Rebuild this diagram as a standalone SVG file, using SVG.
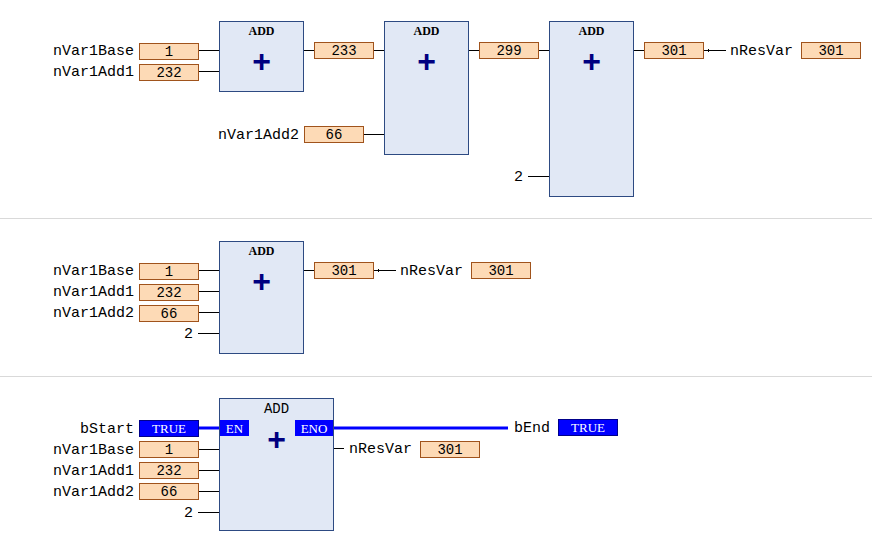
<svg xmlns="http://www.w3.org/2000/svg" width="872" height="552" viewBox="0 0 872 552">
<defs>
<style>
.blk{fill:#E1E8F5;stroke:#2D4A82;stroke-width:1}
.val{fill:#FDDAB6;stroke:#A0531C;stroke-width:1}
.bool{fill:#0000FF;stroke:#00008B;stroke-width:1}
.en{fill:#0000FF}
.w{stroke:#000;stroke-width:1;fill:none}
.bw{stroke:#0000FF;stroke-width:3;fill:none}
.sep{stroke:#D9D9D9;stroke-width:1}
.lbl{font-family:"Liberation Mono","Courier New",monospace;font-size:15px;fill:#000}
.num{font-family:"Liberation Mono","Courier New",monospace;font-size:14px;fill:#000;text-anchor:middle}
.hdr{font-family:"Liberation Serif","Times New Roman",serif;font-size:12px;font-weight:bold;fill:#000;text-anchor:middle}
.hdr2{font-family:"Liberation Mono","Courier New",monospace;font-size:14px;fill:#000;text-anchor:middle}
.plus{font-family:"Liberation Sans",Arial,sans-serif;font-size:32px;font-weight:bold;fill:#000080;text-anchor:middle}
.wt{font-family:"Liberation Serif","Times New Roman",serif;font-size:13px;fill:#fff;text-anchor:middle}
.r{text-anchor:end}
</style>
</defs>
<rect width="872" height="552" fill="#fff"/>
<line class="sep" x1="0" y1="218.5" x2="872" y2="218.5"/>
<line class="sep" x1="0" y1="376.5" x2="872" y2="376.5"/>

<g id="connectors">
<!-- section 1 -->
<line class="w" x1="199" y1="50.5" x2="220" y2="50.5"/>
<line class="w" x1="199" y1="71.5" x2="220" y2="71.5"/>
<line class="w" x1="304" y1="50.5" x2="314" y2="50.5"/>
<line class="w" x1="374" y1="50.5" x2="385" y2="50.5"/>
<line class="w" x1="364" y1="134.5" x2="385" y2="134.5"/>
<line class="w" x1="469" y1="50.5" x2="479" y2="50.5"/>
<line class="w" x1="539" y1="50.5" x2="550" y2="50.5"/>
<line class="w" x1="528" y1="176.5" x2="550" y2="176.5"/>
<line class="w" x1="634" y1="50.5" x2="644" y2="50.5"/>
<line class="w" x1="704" y1="50.5" x2="726" y2="50.5"/>
<line class="w" x1="708.5" y1="49" x2="708.5" y2="52"/>
<!-- section 2 -->
<line class="w" x1="199" y1="270.5" x2="220" y2="270.5"/>
<line class="w" x1="199" y1="291.5" x2="220" y2="291.5"/>
<line class="w" x1="199" y1="312.5" x2="220" y2="312.5"/>
<line class="w" x1="198" y1="333.5" x2="220" y2="333.5"/>
<line class="w" x1="304" y1="270.5" x2="314" y2="270.5"/>
<line class="w" x1="374" y1="270.5" x2="396" y2="270.5"/>
<line class="w" x1="378.5" y1="269" x2="378.5" y2="272"/>
<!-- section 3 -->
<line class="bw" x1="199" y1="428" x2="220" y2="428"/>
<line class="bw" x1="334" y1="428" x2="508" y2="428"/>
<line class="w" x1="199" y1="449.5" x2="220" y2="449.5"/>
<line class="w" x1="199" y1="470.5" x2="220" y2="470.5"/>
<line class="w" x1="199" y1="491.5" x2="220" y2="491.5"/>
<line class="w" x1="198" y1="512.5" x2="220" y2="512.5"/>
<line class="w" x1="334" y1="448.5" x2="344" y2="448.5"/>
</g>

<!-- section 1 -->
<g id="add1">
<rect class="blk" x="219.5" y="21.5" width="84" height="70"/>
<text class="hdr" x="261.5" y="35">ADD</text>
<text class="plus" x="261.5" y="72">+</text>
</g>
<g id="in1_base">
<text class="lbl r" x="134" y="55">nVar1Base</text>
<rect class="val" x="139.5" y="43.5" width="59" height="16"/>
<text class="num" x="169" y="56">1</text>
</g>
<g id="in1_add1">
<text class="lbl r" x="134" y="76">nVar1Add1</text>
<rect class="val" x="139.5" y="64.5" width="59" height="16"/>
<text class="num" x="169" y="77">232</text>
</g>
<g id="v233">
<rect class="val" x="314.5" y="42.5" width="59" height="16"/>
<text class="num" x="344" y="55">233</text>
</g>
<g id="add2">
<rect class="blk" x="384.5" y="21.5" width="84" height="133"/>
<text class="hdr" x="426.5" y="35">ADD</text>
<text class="plus" x="426.5" y="72">+</text>
</g>
<g id="in1_add2">
<text class="lbl r" x="299" y="139">nVar1Add2</text>
<rect class="val" x="304.5" y="126.5" width="59" height="16"/>
<text class="num" x="334" y="139">66</text>
</g>
<g id="v299">
<rect class="val" x="479.5" y="42.5" width="59" height="16"/>
<text class="num" x="509" y="55">299</text>
</g>
<g id="add3">
<rect class="blk" x="549.5" y="21.5" width="84" height="175"/>
<text class="hdr" x="591.5" y="35">ADD</text>
<text class="plus" x="591.5" y="72">+</text>
</g>
<g id="c2a">
<text class="lbl r" x="523" y="181">2</text>
</g>
<g id="v301a">
<rect class="val" x="644.5" y="42.5" width="59" height="16"/>
<text class="num" x="674" y="55">301</text>
</g>
<g id="res1">
<text class="lbl" x="730" y="55">nResVar</text>
<rect class="val" x="801.5" y="42.5" width="59" height="16"/>
<text class="num" x="831" y="55">301</text>
</g>

<!-- section 2 -->
<g id="add4">
<rect class="blk" x="219.5" y="241.5" width="84" height="112"/>
<text class="hdr" x="261.5" y="255">ADD</text>
<text class="plus" x="261.5" y="292">+</text>
</g>
<g id="in2_base">
<text class="lbl r" x="134" y="275">nVar1Base</text>
<rect class="val" x="139.5" y="263.5" width="59" height="16"/>
<text class="num" x="169" y="276">1</text>
</g>
<g id="in2_add1">
<text class="lbl r" x="134" y="296">nVar1Add1</text>
<rect class="val" x="139.5" y="284.5" width="59" height="16"/>
<text class="num" x="169" y="297">232</text>
</g>
<g id="in2_add2">
<text class="lbl r" x="134" y="317">nVar1Add2</text>
<rect class="val" x="139.5" y="305.5" width="59" height="16"/>
<text class="num" x="169" y="318">66</text>
</g>
<g id="c2b">
<text class="lbl r" x="193" y="338">2</text>
</g>
<g id="v301b">
<rect class="val" x="314.5" y="262.5" width="59" height="16"/>
<text class="num" x="344" y="275">301</text>
</g>
<g id="res2">
<text class="lbl" x="400" y="275">nResVar</text>
<rect class="val" x="471.5" y="262.5" width="59" height="16"/>
<text class="num" x="501" y="275">301</text>
</g>

<!-- section 3 -->
<g id="add5">
<rect class="blk" x="219.5" y="398.5" width="114" height="132"/>
<text class="hdr2" x="276.5" y="413">ADD</text>
<text class="plus" x="276.5" y="450">+</text>
<rect class="en" x="220" y="420" width="29" height="16"/>
<text class="wt" x="234.5" y="432.5">EN</text>
<rect class="en" x="295" y="420" width="38" height="16"/>
<text class="wt" x="314" y="432.5">ENO</text>
</g>
<g id="bstart">
<text class="lbl r" x="134" y="433">bStart</text>
<rect class="bool" x="139.5" y="420.5" width="59" height="16"/>
<text class="wt" x="169" y="433">TRUE</text>
</g>
<g id="in3_base">
<text class="lbl r" x="134" y="454">nVar1Base</text>
<rect class="val" x="139.5" y="441.5" width="59" height="16"/>
<text class="num" x="169" y="454">1</text>
</g>
<g id="in3_add1">
<text class="lbl r" x="134" y="475">nVar1Add1</text>
<rect class="val" x="139.5" y="462.5" width="59" height="16"/>
<text class="num" x="169" y="475">232</text>
</g>
<g id="in3_add2">
<text class="lbl r" x="134" y="496">nVar1Add2</text>
<rect class="val" x="139.5" y="483.5" width="59" height="16"/>
<text class="num" x="169" y="496">66</text>
</g>
<g id="c2c">
<text class="lbl r" x="193" y="517">2</text>
</g>
<g id="bend">
<text class="lbl" x="514" y="432">bEnd</text>
<rect class="bool" x="558.5" y="419.5" width="59" height="16"/>
<text class="wt" x="588" y="432">TRUE</text>
</g>
<g id="res3">
<text class="lbl" x="349" y="453">nResVar</text>
<rect class="val" x="420.5" y="441.5" width="59" height="16"/>
<text class="num" x="450" y="454">301</text>
</g>
</svg>
